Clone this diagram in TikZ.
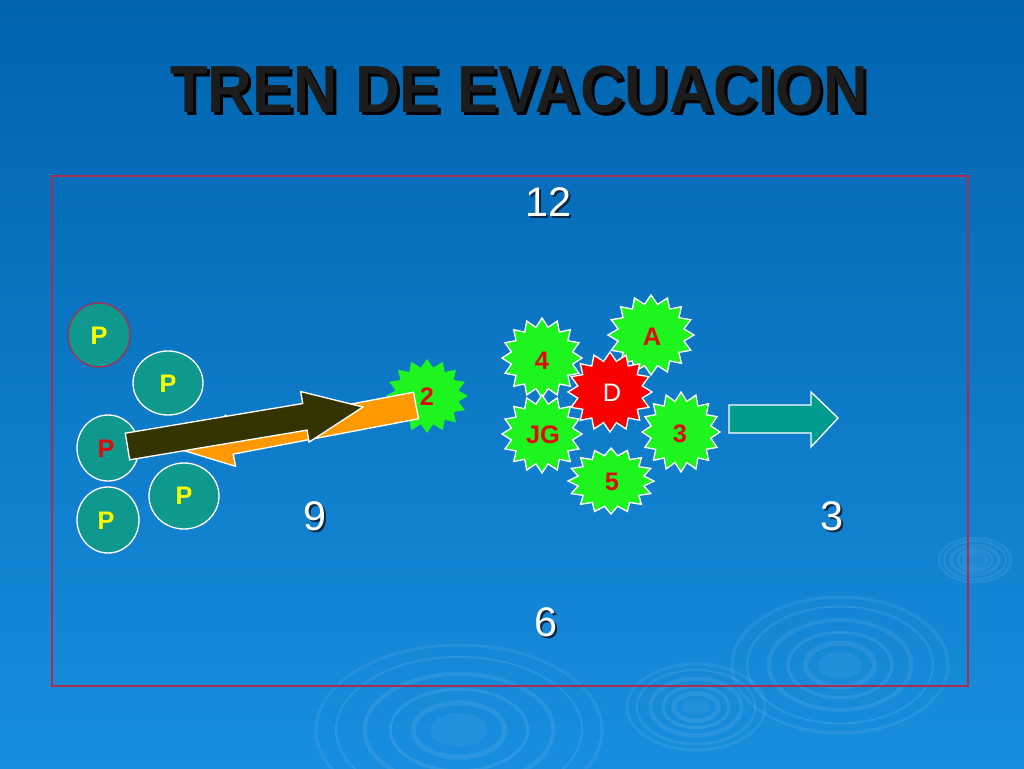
\documentclass[tikz,border=0pt]{standalone}
\usepackage{fontspec}
\setmainfont{Liberation Sans}
\definecolor{bgtop}{RGB}{0,100,175}
\definecolor{bgbot}{RGB}{25,142,222}
\definecolor{pteal}{RGB}{14,152,142}
\definecolor{ateal}{RGB}{0,156,142}
\definecolor{sgreen}{RGB}{30,245,30}
\definecolor{sred}{RGB}{250,0,0}
\definecolor{tred}{RGB}{225,10,10}
\definecolor{pyel}{RGB}{255,255,0}
\definecolor{frame}{RGB}{170,45,80}
\definecolor{darkarrow}{RGB}{52,52,0}
\definecolor{orangearrow}{RGB}{255,153,0}
\definecolor{titlecol}{RGB}{28,28,28}
\definecolor{numshad}{RGB}{10,40,70}
\newcommand\shadowed[3]{\rlap{\hspace{#1}\raisebox{-#1}{\color{#2}#3}}#3}
\newcommand\burst[6][draw=white,line width=1pt]{%
  \filldraw[fill=#6,#1] ({#2+#4},{#3})
  \foreach \kk in {1,...,31}{ -- ({#2+#4*(1-0.22*mod(\kk,2))*cos(\kk*11.25)},{#3+#5*(1-0.22*mod(\kk,2))*sin(\kk*11.25)}) } -- cycle;}
\newcommand\ripple[4]{%
  \foreach \s/\w/\o in {1/3/0.07,0.86/2/0.09,0.66/4/0.08,0.48/3/0.09,0.32/5/0.08}{
    \draw[white,opacity=\o,line width=\w*0.75pt] (#1,#2) ellipse [x radius={#3*\s}, y radius={#4*\s}];}
  \fill[white,opacity=0.05] (#1,#2) ellipse [x radius={#3*0.2}, y radius={#4*0.2}];}
\tikzset{
  pcirc/.style={fill=pteal,draw=white,line width=1pt},
  ptext/.style={text=pyel,font=\fontsize{19}{19}\selectfont\bfseries,inner sep=0pt},
  stext/.style={text=tred,font=\fontsize{19}{19}\selectfont\bfseries,inner sep=0pt},
  numtext/.style={text=white,font=\fontsize{31}{31}\selectfont,inner sep=0pt},
}
\begin{document}
\begin{tikzpicture}[x=0.75pt,y=-0.75pt]
\useasboundingbox (0,0) rectangle (1024,768);
\shade[top color=bgtop,bottom color=bgbot] (0,0) rectangle (1024,768);
% decorative ripples
\ripple{840}{665}{108}{68}
\ripple{975}{560}{36}{22}
\ripple{459}{730}{143}{85}
\ripple{696}{707}{69}{43}
% title
\node[font=\fontsize{50}{50}\selectfont\bfseries,xscale=0.925,inner sep=0pt] (title) at (519,91)
  {\color{titlecol}\shadowed{2.4pt}{black}{TREN DE EVACUACION}};
% frame
\draw[frame,line width=1.2pt] (52,176) rectangle (968,686);
% clock numbers
\node[numtext] (n12) at (548,203) {\shadowed{1.5pt}{numshad}{12}};
\node[numtext] (n9) at (315,517) {\shadowed{1.5pt}{numshad}{9}};
\node[numtext] (n3) at (832,517) {\shadowed{1.5pt}{numshad}{3}};
\node[numtext] (n6) at (546,623) {\shadowed{1.5pt}{numshad}{6}};
% people
\filldraw[fill=pteal,draw=frame,line width=1pt] (99,335) ellipse [x radius=31, y radius=32];
\node[ptext] (p1) at (99,336) {P};
\filldraw[pcirc] (168,383) ellipse [x radius=35, y radius=32];
\node[ptext] (p2) at (168,384) {P};
\filldraw[pcirc] (108,448) ellipse [x radius=31, y radius=33];
\node[ptext,text=tred] (p3) at (106,449) {P};
\filldraw[pcirc] (184,496) ellipse [x radius=35, y radius=33];
\node[ptext] (p4) at (184,496) {P};
\filldraw[pcirc] (108,520) ellipse [x radius=31, y radius=33];
\node[ptext] (p5) at (106,521) {P};
% star 2
\burst[draw=none]{427}{396}{41}{37}{sgreen}
% orange arrow (back)
\filldraw[fill=orangearrow,draw=white,line width=1pt,line join=miter]
  (413.5,392.2) -- (228.2,427.5) -- (225.8,415.3) -- (182,450) -- (235.6,466.3) -- (233.2,454.1) -- (418.5,418.8) -- cycle;
\node[stext] (s2) at (427,397) {2};
% dark arrow (forward)
\filldraw[fill=darkarrow,draw=white,line width=1pt,line join=miter]
  (125.3,433.2) -- (302.7,403.5) -- (300.7,391.5) -- (363,407) -- (309.1,442.1) -- (307.1,430.1) -- (129.7,459.8) -- cycle;
% group of stars
\burst{542}{358}{40}{40}{sgreen}
\burst{542}{434}{40}{39}{sgreen}
\burst{651}{335}{43}{40}{sgreen}
\burst{681}{432}{39}{40}{sgreen}
\burst{611}{481}{43}{33}{sgreen}
\burst{610}{392}{42}{40}{sred}
\node[stext] (s4) at (542,361) {4};
\node[stext] (sjg) at (543,435) {JG};
\node[stext] (sa) at (652,337) {A};
\node[text=white,font=\fontsize{19}{19}\selectfont,inner sep=0pt] (sd) at (612,393) {D};
\node[stext] (s3) at (680,434) {3};
\node[stext] (s5) at (612,482) {5};
% exit arrow
\filldraw[fill=ateal,draw=white,line width=1pt,line join=miter]
  (729,405) -- (811,405) -- (811,392) -- (838,418) -- (811,447) -- (811,433) -- (729,433) -- cycle;
\end{tikzpicture}
\end{document}
